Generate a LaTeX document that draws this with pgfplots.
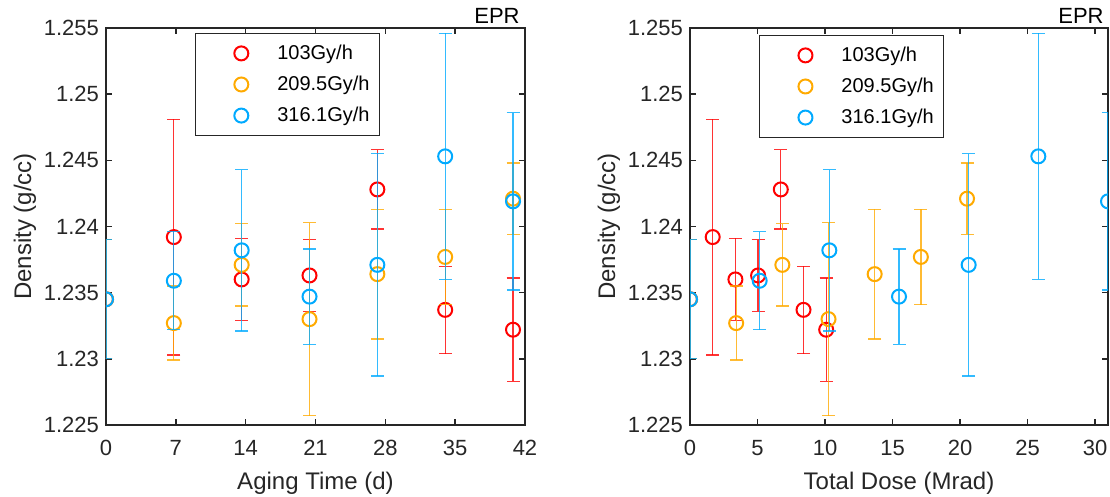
\documentclass[border=0pt]{standalone}
\usepackage{fontspec}
\setmainfont{Liberation Sans}
\usepackage{pgfplots}
\pgfplotsset{compat=1.18}
\definecolor{cred}{RGB}{255,0,0}
\definecolor{corange}{RGB}{255,170,0}
\definecolor{cblue}{RGB}{0,170,255}
\definecolor{axgray}{RGB}{38,38,38}
\pgfplotsset{
 myaxis/.style={
  scale only axis, height=198.5pt,
  ymin=1.225, ymax=1.255,
  ytick={1.225,1.23,1.235,1.24,1.245,1.25,1.255},
  yticklabels={1.225,1.23,1.235,1.24,1.245,1.25,1.255},
  axis line style={axgray, line width=0.75pt},
  major tick style={axgray, line width=0.75pt},
  major tick length=3pt,
  tick align=inside, tick pos=both,
  ticklabel style={font=\fontsize{11}{13}\selectfont, text=axgray},
  xticklabel style={yshift=-4pt},
  label style={font=\fontsize{12}{14}\selectfont, text=axgray},
  xlabel style={yshift=-1.5pt},
  ylabel style={yshift=-3pt},
  /pgf/number format/assume math mode=true,
  clip marker paths=true,
  ylabel={Density (g/cc)},
  legend cell align=left,
  legend image code/.code={\path[draw=none] (0pt,0pt) -- (36pt,0pt); \draw[##1] plot coordinates {(20pt,0pt)};},
 },
 mylegend/.style 2 args={legend style={at={(#1,#2)}, anchor=north west, draw=axgray, line width=0.5pt,
   font=\fontsize{10}{12}\selectfont, inner xsep=3pt, inner ysep=3.5pt, row sep=2.8pt, text=black}},
 ser/.style={only marks, mark=o, mark size=3.5pt, line width=1pt, color=#1, mark options={solid},
   error bars/.cd, y dir=both, y explicit,
   error bar style={color=#1, opacity=0.8, line width=0.65pt},
   error mark options={rotate=90, mark size=3.25pt, color=#1, opacity=0.8, line width=0.65pt}},
}
\begin{document}
\begin{tikzpicture}
\useasboundingbox (0,0) rectangle (555pt,248.5pt);
% ---------------- left: aging time
\begin{axis}[myaxis, name=L, at={(53pt,36pt)}, anchor=south west, width=209.5pt,
  xmin=0, xmax=42, xtick={0,7,14,21,28,35,42},
  xlabel={Aging Time (d)}, mylegend={0.212}{0.987}]
\addplot[ser=cred] coordinates {
 (0,1.2345) +- (0,0.0045)
 (6.8,1.2392) +- (0,0.0089)
 (13.6,1.2360) +- (0,0.0031)
 (20.4,1.2363) +- (0,0.0027)
 (27.2,1.2428) +- (0,0.0030)
 (34,1.2337) +- (0,0.0033)
 (40.8,1.2322) +- (0,0.0039)
};
\addlegendentry{103Gy/h}
\addplot[ser=corange] coordinates {
 (0,1.2345) +- (0,0.0045)
 (6.8,1.2327) +- (0,0.0028)
 (13.6,1.2371) +- (0,0.0031)
 (20.4,1.2330) +- (0,0.0073)
 (27.2,1.2364) +- (0,0.0049)
 (34,1.2377) +- (0,0.0036)
 (40.8,1.2421) +- (0,0.0027)
};
\addlegendentry{209.5Gy/h}
\addplot[ser=cblue] coordinates {
 (0,1.2345) +- (0,0.0045)
 (6.8,1.2359) +- (0,0.0037)
 (13.6,1.2382) +- (0,0.0061)
 (20.4,1.2347) +- (0,0.0036)
 (27.2,1.2371) +- (0,0.0084)
 (34,1.2453) +- (0,0.0093)
 (40.8,1.2419) +- (0,0.0067)
};
\addlegendentry{316.1Gy/h}
\end{axis}
\node[anchor=south east, inner sep=0pt, font=\fontsize{11}{13}\selectfont] at ([xshift=-2.5pt,yshift=2pt]L.north east) {EPR};
% ---------------- right: total dose
\begin{axis}[myaxis, name=R, at={(345pt,36pt)}, anchor=south west, width=209pt,
  xmin=0, xmax=30.954, xtick={0,5,10,15,20,25,30},
  xlabel={Total Dose (Mrad)}, mylegend={0.165}{0.982}]
\addplot[ser=cred] coordinates {
 (0,1.2345) +- (0,0.0045)
 (1.681,1.2392) +- (0,0.0089)
 (3.362,1.2360) +- (0,0.0031)
 (5.043,1.2363) +- (0,0.0027)
 (6.724,1.2428) +- (0,0.0030)
 (8.405,1.2337) +- (0,0.0033)
 (10.086,1.2322) +- (0,0.0039)
};
\addlegendentry{103Gy/h}
\addplot[ser=corange] coordinates {
 (0,1.2345) +- (0,0.0045)
 (3.419,1.2327) +- (0,0.0028)
 (6.838,1.2371) +- (0,0.0031)
 (10.257,1.2330) +- (0,0.0073)
 (13.676,1.2364) +- (0,0.0049)
 (17.095,1.2377) +- (0,0.0036)
 (20.514,1.2421) +- (0,0.0027)
};
\addlegendentry{209.5Gy/h}
\addplot[ser=cblue] coordinates {
 (0,1.2345) +- (0,0.0045)
 (5.159,1.2359) +- (0,0.0037)
 (10.318,1.2382) +- (0,0.0061)
 (15.477,1.2347) +- (0,0.0036)
 (20.636,1.2371) +- (0,0.0084)
 (25.795,1.2453) +- (0,0.0093)
 (30.954,1.2419) +- (0,0.0067)
};
\addlegendentry{316.1Gy/h}
\end{axis}
\node[anchor=south east, inner sep=0pt, font=\fontsize{11}{13}\selectfont] at ([xshift=-2pt,yshift=2pt]R.north east) {EPR};
\end{tikzpicture}
\end{document}
